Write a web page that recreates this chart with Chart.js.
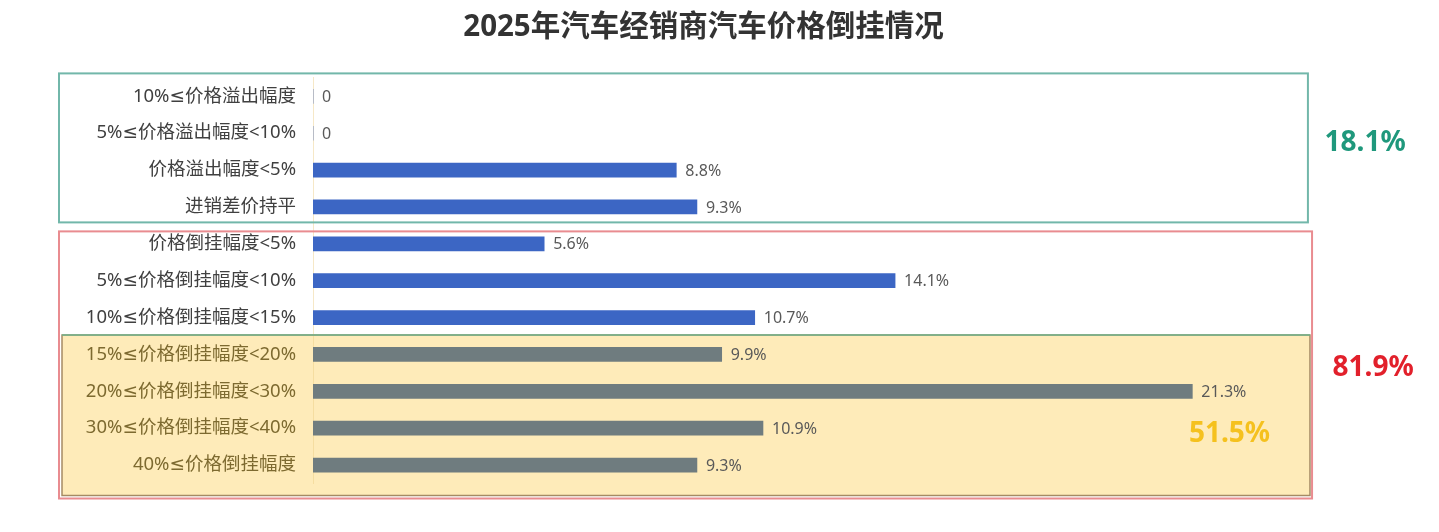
<!DOCTYPE html>
<html lang="zh-CN">
<head>
<meta charset="UTF-8">
<title>2025年汽车经销商汽车价格倒挂情况</title>
<script src="https://cdn.jsdelivr.net/npm/chart.js"></script>
<style>
    body { margin: 0; background: #ffffff; }
    #chart { display: block; }
</style>
</head>
<body>
<canvas id="chart" width="1439" height="532"></canvas>
<script>
    const categories = [
        '10%≤价格溢出幅度',
        '5%≤价格溢出幅度<10%',
        '价格溢出幅度<5%',
        '进销差价持平',
        '价格倒挂幅度<5%',
        '5%≤价格倒挂幅度<10%',
        '10%≤价格倒挂幅度<15%',
        '15%≤价格倒挂幅度<20%',
        '20%≤价格倒挂幅度<30%',
        '30%≤价格倒挂幅度<40%',
        '40%≤价格倒挂幅度'
    ];
    const shares = [0, 0, 8.8, 9.3, 5.6, 14.1, 10.7, 9.9, 21.3, 10.9, 9.3];
    // totals written beside the three boxes
    const overflowTotal = '18.1%';
    const invertedTotal = '81.9%';
    const deepTotal = '51.5%';
    // row where each box begins
    const invertedFrom = 4;
    const deepFrom = 7;

    // Noto Sans for digits, DejaVu for a narrow ≤, CJK falls back
    const FONT = '"Noto Sans", "DejaVu Sans", "Noto Sans CJK SC", sans-serif';

    function rowTop(y, i) {
        const step = y.getPixelForValue(1) - y.getPixelForValue(0);
        return y.getPixelForValue(i) - step / 2;
    }

    const groupBoxes = {
        id: 'groupBoxes',
        beforeDraw(chart) {
            const { ctx, chartArea, scales: { x, y } } = chart;
            const left = chartArea.left - 251;
            const top = rowTop(y, deepFrom) - 1;
            const bottom = rowTop(y, categories.length) + 12;
            ctx.save();
            ctx.fillStyle = '#feebb9';
            ctx.fillRect(left, top, x.getPixelForValue(24.15) - left, bottom - top);
            ctx.restore();
        },
        afterDraw(chart) {
            const { ctx, chartArea, scales: { x, y } } = chart;
            const left = chartArea.left - 254;
            ctx.save();

            // yellow block border
            const yTop = rowTop(y, deepFrom) - 1;
            const yBottom = rowTop(y, categories.length) + 12;
            const yRight = x.getPixelForValue(24.15);
            ctx.lineWidth = 1.5;
            ctx.strokeStyle = '#a58a64';
            ctx.strokeRect(left + 3, yTop, yRight - left - 3, yBottom - yTop);
            ctx.strokeStyle = '#6fb58c';
            ctx.beginPath();
            ctx.moveTo(left + 3, yTop);
            ctx.lineTo(yRight, yTop);
            ctx.stroke();

            // teal box
            const tTop = rowTop(y, 0) - 4.5;
            const tBottom = rowTop(y, invertedFrom) - 3;
            ctx.lineWidth = 2;
            ctx.strokeStyle = '#72b7aa';
            ctx.strokeRect(left, tTop, x.getPixelForValue(24.1) - left, tBottom - tTop);

            // red box
            const rTop = rowTop(y, invertedFrom) + 6;
            const rBottom = rowTop(y, categories.length) + 15;
            ctx.strokeStyle = '#e98c90';
            ctx.strokeRect(left, rTop, x.getPixelForValue(24.2) - left, rBottom - rTop);

            // totals
            ctx.font = 'bold 28px ' + FONT;
            ctx.textAlign = 'center';
            ctx.textBaseline = 'middle';
            ctx.fillStyle = '#1f987c';
            ctx.fillText(overflowTotal, x.getPixelForValue(25) + 20, (tTop + tBottom) / 2 - 5);
            ctx.fillStyle = '#e2202b';
            ctx.fillText(invertedTotal, x.getPixelForValue(25) + 28, (rTop + rBottom) / 2 + 3);
            ctx.fillStyle = '#f5c11e';
            ctx.fillText(deepTotal, x.getPixelForValue(22.2), y.getPixelForValue(9) + 6);
            ctx.restore();
        }
    };

    const valueLabels = {
        id: 'valueLabels',
        afterDatasetsDraw(chart) {
            const { ctx } = chart;
            const bars = chart.getDatasetMeta(0).data;
            ctx.save();
            ctx.font = '16px ' + FONT;
            ctx.fillStyle = '#595959';
            ctx.textAlign = 'left';
            ctx.textBaseline = 'middle';
            bars.forEach((bar, i) => {
                const v = shares[i];
                const text = v === 0 ? '0' : v.toFixed(1) + '%';
                ctx.fillText(text, bar.x + 9, bar.y + 1);
            });
            ctx.restore();
        }
    };

    const ctx = document.getElementById('chart').getContext('2d');
    const chart = new Chart(ctx, {
        type: 'bar',
        data: {
            labels: categories,
            datasets: [{
                data: shares,
                backgroundColor: shares.map((_, i) => i >= deepFrom ? '#6f7c7f' : '#3c66c4'),
                barThickness: 14
            }]
        },
        options: {
            indexAxis: 'y',
            responsive: false,
            animation: false,
            layout: { padding: { top: 0, left: 0, right: 32, bottom: 48.5 } },
            plugins: {
                legend: { display: false },
                tooltip: { enabled: false },
                title: {
                    display: true,
                    text: '2025年汽车经销商汽车价格倒挂情况',
                    color: '#333333',
                    font: { family: FONT, size: 29.5, weight: 'bold' },
                    padding: { top: 10, bottom: 32.5 }
                }
            },
            scales: {
                x: {
                    display: false,
                    min: 0,
                    max: 26.5
                },
                y: {
                    afterFit(scale) { scale.width = 313; },
                    grid: { display: false, drawTicks: false },
                    border: { display: true, color: 'rgba(235, 205, 130, 0.45)' },
                    ticks: {
                        padding: 17,
                        font: { family: FONT, size: 18.5 },
                        color: c => c.index >= deepFrom ? '#7d6a30' : '#404040'
                    }
                }
            }
        },
        plugins: [groupBoxes, valueLabels]
    });
</script>
</body>
</html>
